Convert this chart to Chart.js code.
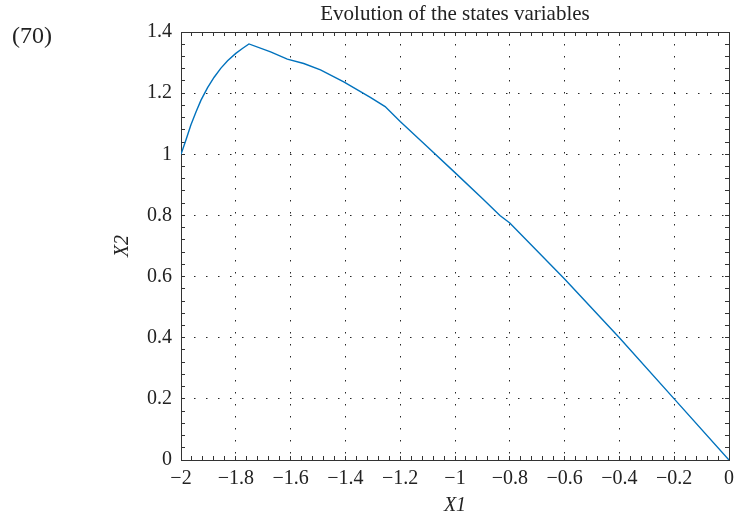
<!DOCTYPE html>
<html lang="en">
<head>
    <meta charset="UTF-8">
    <title>Evolution of the states variables</title>
    <script src="https://cdn.jsdelivr.net/npm/chart.js"></script>
    <style>
        body {
          margin: 0;
          background: #fff;
        }
        .chartBox {
          position: relative;
          width: 747px;
          height: 517px;
        }
        #eqNumber {
          position: absolute;
          left: 12px;
          top: 22px;
          font-family: "Liberation Serif", serif;
          font-size: 24px;
          color: #222;
        }
    </style>
</head>
<body>
    <div class="chartBox">
        <div id="eqNumber">(70)</div>
        <canvas id="statesChart" width="747" height="517"></canvas>
    </div>
    <script>
        // Trajectory: X1 (horizontal) and X2 (vertical)
        const x1Values = [-2, -1.982, -1.964, -1.945, -1.927, -1.903, -1.879, -1.855, -1.83, -1.8,
                          -1.776, -1.752, -1.673, -1.612, -1.552, -1.491, -1.406, -1.309, -1.255, -1.2,
                          -1.1, -1.0, -0.9, -0.836, -0.8, -0.6, -0.4, -0.2, 0];
        const x2Values = [1.0, 1.047, 1.096, 1.139, 1.177, 1.218, 1.252, 1.281, 1.306, 1.33,
                          1.346, 1.361, 1.335, 1.311, 1.297, 1.276, 1.237, 1.186, 1.156, 1.107,
                          1.024, 0.94, 0.855, 0.8, 0.775, 0.592, 0.4, 0.2, 0];

        const chartTitle = 'Evolution of the states variables';
        const xLabel = 'X1';
        const yLabel = 'X2';
        const xRange = [-2, 0];
        const yRange = [0, 1.4];
        const majorStep = 0.2;
        const minorStep = 0.04;

        const serif = '"Liberation Serif", "Times New Roman", serif';
        const isMajor = v => Math.abs(Math.round(v / majorStep) * majorStep - v) < 1e-6;
        const fmt = v => {
            if (!isMajor(v)) return '';
            const r = Math.round(v / majorStep) * majorStep;
            return parseFloat(r.toFixed(2)).toString().replace('-', '\u2212');
        };

        function axisBase(min, max) {
            return {
                type: 'linear',
                min: min,
                max: max,
                border: { display: true, color: '#333', width: 1, dash: [1.5, 10.5] },
                grid: {
                    color: c => (c.tick && isMajor(c.tick.value)) ? 'rgba(0,0,0,0.85)' : 'rgba(0,0,0,0)',
                    lineWidth: 1,
                    drawTicks: true,
                    tickLength: -4,
                    tickColor: '#333',
                    tickWidth: 1
                },
                ticks: {
                    stepSize: minorStep,
                    autoSkip: false,
                    maxRotation: 0,
                    color: '#222',
                    font: { family: serif, size: 20 },
                    callback: v => fmt(v)
                }
            };
        }

        const xAxis = axisBase(xRange[0], xRange[1]);
        xAxis.position = 'bottom';
        xAxis.ticks.padding = 11;
        xAxis.title = { display: true, text: xLabel, color: '#222',
                        font: { family: serif, size: 20, style: 'italic', lineHeight: 1.2 },
                        padding: { top: 0, bottom: -1 } };
        xAxis.afterFit = s => { s.height = 57; };

        const yAxis = axisBase(yRange[0], yRange[1]);
        yAxis.position = 'left';
        yAxis.ticks.padding = 13;
        yAxis.title = { display: true, text: yLabel, color: '#222',
                        font: { family: serif, size: 20, style: 'italic', lineHeight: 1.2 },
                        padding: { top: 111, bottom: 0 } };
        yAxis.afterFit = s => { s.width = 181; };

        // top and right frame with inward ticks
        const xTop = axisBase(xRange[0], xRange[1]);
        xTop.position = 'top';
        xTop.grid.drawOnChartArea = false;
        xTop.ticks.display = false;
        xTop.afterFit = s => { s.height = 0; };

        const yRight = axisBase(yRange[0], yRange[1]);
        yRight.position = 'right';
        yRight.grid.drawOnChartArea = false;
        yRight.ticks.display = false;
        yRight.afterFit = s => { s.width = 0; };

        const points = x1Values.map((x, i) => ({ x: x, y: x2Values[i] }));

        const ctx = document.getElementById('statesChart').getContext('2d');
        new Chart(ctx, {
            type: 'line',
            data: {
                datasets: [{
                    label: yLabel,
                    data: points,
                    borderColor: '#0072BD',
                    borderWidth: 1.4,
                    pointRadius: 0,
                    fill: false,
                    tension: 0
                }]
            },
            options: {
                responsive: false,
                animation: false,
                layout: { padding: { left: 0, right: 18, top: 0, bottom: 0 } },
                plugins: {
                    legend: { display: false },
                    tooltip: { enabled: false },
                    title: {
                        display: true,
                        text: chartTitle,
                        fullSize: false,
                        color: '#222',
                        font: { family: serif, size: 21, weight: 'normal', lineHeight: 1.2 },
                        padding: { top: 2, bottom: 4.8 }
                    }
                },
                scales: {
                    x: xAxis,
                    y: yAxis,
                    x2: xTop,
                    y2: yRight
                }
            }
        });
    </script>
</body>
</html>
